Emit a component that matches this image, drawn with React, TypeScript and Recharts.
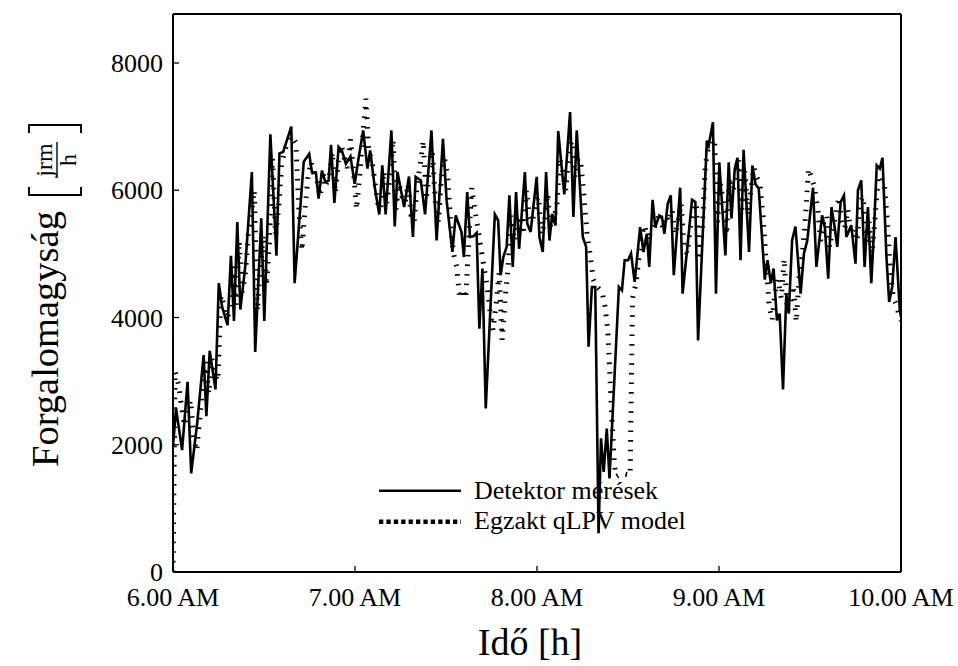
import React from 'react';
import { LineChart, Line, XAxis, YAxis, Legend } from 'recharts';

// Time in minutes after 6.00 AM
const detectorTimes = [
  0, 1.0, 3.0, 4.8, 6.0, 8.0, 10.1, 11.0, 12.1, 14.0, 15.1, 16.2, 18.0, 19.1, 20.1, 21.2, 22.2, 23.8, 26.0, 27.1,
  29.1, 30.1, 32.1, 34.1, 35.1, 36.3, 39.0, 40.1, 43.1, 44.9, 45.8, 47.1, 48.0, 49.1, 50.2, 51.3, 52.1, 53.2, 54.6, 55.7,
  57.0, 58.5, 59.9, 61.0, 62.7, 64.1, 65.0, 66.5, 68.0, 69.0, 70.1, 72.0, 73.1, 74.0, 76.2, 77.8, 79.1, 80.0, 81.7, 83.1,
  85.2, 86.9, 89.0, 90.2, 92.1, 93.2, 95.1, 95.9, 97.0, 97.9, 99.0, 100.1, 101.0, 102.0, 103.1, 106.1, 107.2, 108.0, 108.9, 110.0,
  110.9, 112.0, 113.1, 114.1, 116.0, 116.8, 117.9, 119.9, 120.8, 121.9, 123.0, 124.1, 125.0, 126.1, 127.0, 129.0, 130.9, 132.0, 133.1, 135.1,
  136.2, 137.0, 138.1, 139.2, 140.3, 141.1, 142.0, 143.0, 143.9, 147.0, 148.0, 148.9, 150.0, 151.0, 152.2, 154.0, 155.1, 156.2, 157.0, 158.1,
  159.0, 160.3, 161.2, 162.0, 163.1, 164.1, 165.1, 167.2, 168.0, 169.7, 171.1, 172.2, 173.1, 176.0, 176.6, 178.0, 179.0, 180.1, 182.1, 183.2,
  184.1, 185.2, 186.1, 187.1, 188.1, 189.9, 191.0, 192.0, 193.1, 195.1, 196.0, 197.1, 198.0, 199.1, 200.0, 201.1, 202.2, 203.0, 204.1, 205.2,
  206.9, 208.0, 209.1, 211.0, 212.1, 214.0, 214.9, 216.0, 217.1, 218.2, 219.0, 220.1, 221.2, 222.0, 223.6, 225.0, 225.8, 226.9, 228.0, 229.1,
  230.2, 231.1, 232.0, 233.0, 233.9, 235.2, 236.1, 237.1, 238.2, 239.6, 240.0,
];
const detectorValues = [
  1970, 2570, 1915, 2990, 1550, 2350, 3410, 2450, 3475, 2870, 4540, 4165, 3880, 4970, 3945, 5500, 4125, 4790, 6285, 3460,
  5560, 3945, 6880, 4970, 6580, 6600, 7000, 4540, 6450, 6570, 6285, 6280, 5870, 6310, 6130, 6150, 6715, 5800, 6680, 6620,
  6415, 6530, 6100, 6450, 6940, 6340, 6625, 6050, 5620, 6390, 5620, 6940, 5430, 6285, 5735, 6215, 5265, 6210, 6155, 5620,
  6940, 5210, 6810, 5840, 5030, 5605, 5345, 4950, 5970, 5265, 5275, 5330, 3825, 4770, 2570, 5620, 5525, 4665, 4950, 5110,
  5920, 4795, 5970, 5080, 6285, 5475, 5345, 6210, 5265, 5030, 6285, 5210, 5630, 5445, 6930, 5935, 7230, 5580, 6940, 5265,
  5110, 3540, 4480, 4480, 610, 2100, 1575, 2255, 1470, 4480, 4425, 4900, 4900, 5005, 4560, 5420, 5030, 5315, 4795, 5850,
  5420, 5605, 5580, 5315, 5790, 5920, 4665, 6040, 4375, 5160, 5850, 5815, 3640, 6780, 6705, 7070, 4375, 6440, 4975, 6440,
  5555, 6340, 6510, 4900, 6635, 5030, 6390, 6100, 6025, 4595, 4900, 4540, 4770, 3955, 4060, 2870, 4375, 4060, 5210, 5430,
  4375, 5005, 5210, 6040, 4795, 5605, 5420, 4610, 5735, 5395, 5110, 5815, 5920, 5265, 5450, 4845, 6000, 6155, 4795, 5735,
  4540, 5375, 6390, 6340, 6510, 4950, 4245, 4480, 5265, 4115, 4010,
];

const modelTimes = [
  0, 0.7, 1.8, 2.8, 3.8, 4.8, 5.8, 6.8, 7.8, 8.8, 9.8, 10.8, 11.8, 12.8, 13.8, 14.8, 15.8, 16.8, 17.8, 18.8,
  19.8, 20.8, 21.8, 22.8, 23.8, 24.8, 25.8, 26.8, 27.8, 28.8, 29.8, 30.8, 31.8, 32.8, 33.8, 34.8, 35.8, 37.0, 39.0, 40.5,
  41.5, 42.5, 43.5, 44.5, 45.5, 46.5, 47.5, 48.5, 49.5, 50.5, 51.5, 52.5, 53.5, 54.5, 55.5, 56.5, 57.5, 58.5, 59.5, 60.5,
  61.5, 62.5, 63.6, 64.5, 65.5, 66.5, 67.5, 68.5, 69.5, 70.5, 71.5, 72.5, 73.5, 74.5, 75.5, 76.5, 77.5, 78.5, 79.5, 80.5,
  81.5, 82.5, 83.5, 84.5, 85.5, 86.5, 87.5, 88.5, 89.5, 90.5, 91.5, 92.5, 93.5, 94.5, 95.5, 96.5, 97.5, 98.5, 99.5, 100.5,
  101.5, 102.5, 103.5, 104.5, 105.5, 106.5, 107.5, 108.5, 109.5, 110.5, 111.5, 112.5, 113.5, 114.5, 115.5, 116.5, 117.5, 118.5, 119.5, 120.5,
  121.5, 122.5, 123.5, 124.5, 125.5, 126.5, 127.5, 128.5, 129.5, 130.5, 131.5, 132.5, 133.5, 134.5, 135.5, 136.5, 137.5, 138.5, 139.5, 140.5,
  141.5, 142.5, 143.4, 144.5, 145.5, 146.0, 148.0, 150.7, 151.5, 152.7, 153.5, 154.5, 155.5, 156.5, 157.5, 158.5, 159.5, 160.5, 161.5, 162.5,
  163.5, 164.5, 165.5, 166.5, 167.5, 168.5, 169.5, 170.5, 171.5, 172.5, 173.5, 174.5, 175.5, 176.5, 177.5, 178.5, 179.5, 180.5, 181.5, 182.5,
  183.5, 184.5, 185.5, 186.5, 187.5, 188.5, 189.5, 190.5, 191.5, 192.5, 193.5, 194.5, 195.5, 196.5, 197.5, 198.5, 199.5, 200.5, 201.5, 202.5,
  203.5, 204.5, 205.5, 206.5, 207.5, 208.7, 209.5, 210.5, 211.5, 212.6, 213.5, 214.5, 215.5, 216.5, 217.5, 218.5, 219.5, 220.5, 221.5, 222.5,
  223.5, 224.5, 225.5, 226.5, 227.5, 228.5, 229.5, 230.5, 231.5, 232.5, 233.5, 234.5, 235.5, 236.5, 237.5, 238.5, 239.5, 240.0,
];
const modelValues = [
  0, 3150, 2950, 2600, 2300, 2500, 2700, 2100, 1900, 2400, 2900, 3300, 2800, 3350, 3100, 3000, 4350, 4200, 4000, 4100,
  4800, 4200, 5200, 4400, 4650, 5300, 5600, 6000, 4100, 4800, 5300, 4500, 5200, 6500, 5300, 5700, 6400, 6650, 6850, 6750,
  5700, 5050, 5700, 6200, 6450, 6250, 6150, 5900, 6250, 6100, 6200, 6600, 5950, 6450, 6700, 6500, 6350, 6800, 6300, 5700,
  6200, 6800, 7440, 6600, 6500, 6150, 5800, 5700, 6300, 5800, 6200, 6800, 5700, 6100, 5900, 5800, 6100, 5600, 5500, 6100,
  6400, 6780, 5850, 6300, 6620, 5800, 5500, 6200, 6500, 6250, 5500, 5000, 4800, 4300, 4450, 4300, 5200, 6040, 5700, 5400,
  5100, 4800, 4500, 4100, 3800, 4200, 4700, 3650, 4300, 4800, 5600, 5200, 5500, 5600, 5300, 6000, 5600, 5500, 5800, 5900,
  5300, 5500, 5950, 5400, 5600, 5700, 6500, 6300, 6000, 6600, 6780, 6200, 6500, 6400, 5900, 5300, 5000, 4600, 4500, 4450,
  4400, 4150, 3750, 2600, 1700, 1500, 1550, 1520, 4300, 4550, 4900, 5300, 5450, 5200, 5350, 5400, 5500, 5650, 5400, 5600,
  5500, 5700, 5300, 5500, 5800, 5100, 5000, 5400, 5700, 5800, 4900, 5400, 6400, 6680, 6700, 6800, 5500, 6100, 5800, 5300,
  6200, 6000, 6100, 6470, 5700, 6300, 5600, 6000, 6360, 6200, 6100, 5600, 4900, 4200, 3960, 4400, 4600, 4300, 4925, 4100,
  4200, 4500, 3930, 4700, 5000, 5700, 6340, 6200, 6045, 5680, 5200, 5500, 5600, 5100, 5400, 5600, 5890, 5500, 5400, 5700,
  5300, 5400, 5200, 5800, 5900, 5200, 5500, 5000, 5600, 6230, 6200, 6100, 5500, 4700, 4300, 4200, 4000, 3950,
];

const xTicks = [0, 60, 120, 180, 240];
const xTickLabels = ['6.00 AM', '7.00 AM', '8.00 AM', '9.00 AM', '10.00 AM'];
const yTicks = [0, 2000, 4000, 6000, 8000];
const yInnerTicks = [2000, 4000, 6000, 8000];
const seriesNames = ['Detektor mérések', 'Egzakt qLPV model'];
const yLabelMain = 'Forgalomagyság';
const yLabelNum = 'jrm';
const yLabelDen = 'h';
const xLabelText = 'Idő [h]';

const detectorData = detectorTimes.map((t, i) => ({ t, v: detectorValues[i] }));
const modelData = modelTimes.map((t, i) => ({ t, v: modelValues[i] }));

const FONT = '"Liberation Serif", "Times New Roman", serif';

const tickStyle = { fill: '#000', fontSize: 26, fontFamily: FONT };

const renderLegend = () => (
  <svg width={340} height={70} style={{ display: 'block', overflow: 'visible' }}>
    <line x1={0} x2={82} y1={15.7} y2={15.7} stroke="#000" strokeWidth={2.4} />
    <line x1={0} x2={82} y1={46.7} y2={46.7} stroke="#000" strokeWidth={4.5} strokeDasharray="4.3 3.1" />
    <text x={95} y={23.5} fontSize={26} fontFamily={FONT} fill="#000">{seriesNames[0]}</text>
    <text x={95} y={53.5} fontSize={26} fontFamily={FONT} fill="#000">{seriesNames[1]}</text>
  </svg>
);

const renderYLabel = () => (
  <g transform="translate(58,467) rotate(-90)">
    <text x={0} y={0} fontSize={38.5} fontFamily={FONT} fill="#000">{yLabelMain}</text>
    <path d="M 280 -29 L 272 -29 L 272 23 L 280 23" stroke="#000" strokeWidth={1.9} fill="none" />
    <text x={307} y={-6} textAnchor="middle" fontSize={24} fontFamily={FONT} fill="#000">{yLabelNum}</text>
    <line x1={289} x2={325} y1={-1} y2={-1} stroke="#000" strokeWidth={1.4} />
    <text x={307} y={18} textAnchor="middle" fontSize={24} fontFamily={FONT} fill="#000">{yLabelDen}</text>
    <path d="M 334 -29 L 342 -29 L 342 23 L 334 23" stroke="#000" strokeWidth={1.9} fill="none" />
  </g>
);

const renderXLabel = () => (
  <text x={530} y={655} textAnchor="middle" fontSize={38} fontFamily={FONT} fill="#000">{xLabelText}</text>
);

export default function App() {
  return (
    <div style={{ position: 'absolute', left: 0, top: 0, background: '#fff' }}>
      <LineChart width={958} height={666} margin={{ top: 13, right: 56, bottom: 64, left: 93 }}>
        <XAxis
          xAxisId="bottom"
          dataKey="t"
          type="number"
          domain={[0, 240]}
          ticks={xTicks}
          interval={0}
          height={30}
          tickFormatter={(v) => xTickLabels[xTicks.indexOf(v)]}
          tick={tickStyle}
          tickSize={-6}
          tickMargin={22}
          tickLine={{ stroke: '#000', strokeWidth: 1.3 }}
          axisLine={{ stroke: '#000', strokeWidth: 2 }}
          label={{ content: renderXLabel }}
          allowDataOverflow
        />
        <XAxis
          xAxisId="top"
          orientation="top"
          dataKey="t"
          type="number"
          domain={[0, 240]}
          ticks={xTicks}
          interval={0}
          height={1}
          tick={false}
          tickSize={-6}
          tickLine={{ stroke: '#000', strokeWidth: 1.3 }}
          axisLine={{ stroke: '#000', strokeWidth: 2 }}
          allowDataOverflow
        />
        <YAxis
          yAxisId="left"
          type="number"
          domain={[0, 8770]}
          ticks={yTicks}
          interval={0}
          width={80}
          tick={tickStyle}
          tickSize={-6}
          tickMargin={16}
          tickLine={{ stroke: '#000', strokeWidth: 1.3 }}
          axisLine={{ stroke: '#000', strokeWidth: 2 }}
          label={{ content: renderYLabel }}
          allowDataOverflow
        />
        <YAxis
          yAxisId="right"
          orientation="right"
          type="number"
          domain={[0, 8770]}
          ticks={yInnerTicks}
          interval={0}
          width={1}
          tick={false}
          tickSize={-6}
          tickLine={{ stroke: '#000', strokeWidth: 1.3 }}
          axisLine={{ stroke: '#000', strokeWidth: 2 }}
          allowDataOverflow
        />
        <Legend
          layout="horizontal"
          align="center"
          verticalAlign="middle"
          content={renderLegend}
          wrapperStyle={{ position: 'absolute', left: 379, top: 475, width: 340, height: 70 }}
        />
        <Line
          xAxisId="bottom"
          yAxisId="left"
          data={modelData}
          dataKey="v"
          name={seriesNames[1]}
          type="linear"
          stroke="#000"
          strokeWidth={5}
          strokeDasharray="1.6 8"
          dot={false}
          activeDot={false}
          isAnimationActive={false}
        />
        <Line
          xAxisId="bottom"
          yAxisId="left"
          data={detectorData}
          dataKey="v"
          name={seriesNames[0]}
          type="linear"
          stroke="#000"
          strokeWidth={2.6}
          strokeLinejoin="miter"
          dot={false}
          activeDot={false}
          isAnimationActive={false}
        />
      </LineChart>
    </div>
  );
}
